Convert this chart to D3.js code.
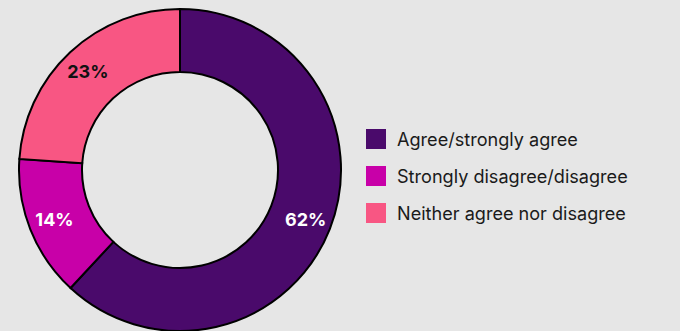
<!DOCTYPE html>
<html>
<head>
<meta charset="utf-8">
<script src="https://cdn.jsdelivr.net/npm/d3@7"></script>
<style>
  body { margin: 0; background: #e6e6e6; }
  svg { display: block; }
</style>
</head>
<body>
<script>
// data
var categories = ["Agree/strongly agree", "Strongly disagree/disagree", "Neither agree nor disagree"];
var shares = [61.9, 14.2, 23.9];
var labels = ["62%", "14%", "23%"];
var colors = ["#4a0a6b", "#c800a8", "#f85683"];
var labelColors = ["#ffffff", "#ffffff", "#111111"];

var width = 680;
var height = 331;
var cx = 180, cy = 170;
var outerR = 161, innerR = 98;

var svg = d3.select("body").append("svg")
    .attr("width", width)
    .attr("height", height)
    .style("font-family", "Inter, Roboto, sans-serif");

var pie = d3.pie().sort(null).value(function(d) { return d; });
var arcs = pie(shares);

var arc = d3.arc().innerRadius(innerR).outerRadius(outerR);
var labelArc = d3.arc().innerRadius(135).outerRadius(135);

var g = svg.append("g")
    .attr("transform", "translate(" + cx + "," + cy + ")");

g.selectAll("path")
    .data(arcs)
    .enter()
    .append("path")
    .attr("d", arc)
    .attr("fill", function(d, i) { return colors[i]; })
    .attr("stroke", "#000")
    .attr("stroke-width", 2);

g.selectAll("text")
    .data(arcs)
    .enter()
    .append("text")
    .attr("transform", function(d) { return "translate(" + labelArc.centroid(d) + ")"; })
    .attr("text-anchor", "middle")
    .attr("dy", "0.36em")
    .attr("fill", function(d, i) { return labelColors[i]; })
    .style("font-size", "18px")
    .style("font-weight", "700")
    .text(function(d, i) { return labels[i]; });

// legend
var legend = svg.append("g")
    .attr("transform", "translate(366,139)");

var rows = legend.selectAll("g")
    .data(categories)
    .enter()
    .append("g")
    .attr("transform", function(d, i) { return "translate(0," + (i * 37) + ")"; });

rows.append("rect")
    .attr("x", 0)
    .attr("y", -10)
    .attr("width", 20)
    .attr("height", 20)
    .attr("fill", function(d, i) { return colors[i]; });

rows.append("text")
    .attr("x", 31)
    .attr("dy", "0.36em")
    .attr("fill", "#1a1a1a")
    .style("font-size", "18.1px")
    .text(function(d) { return d; });
</script>
</body>
</html>
